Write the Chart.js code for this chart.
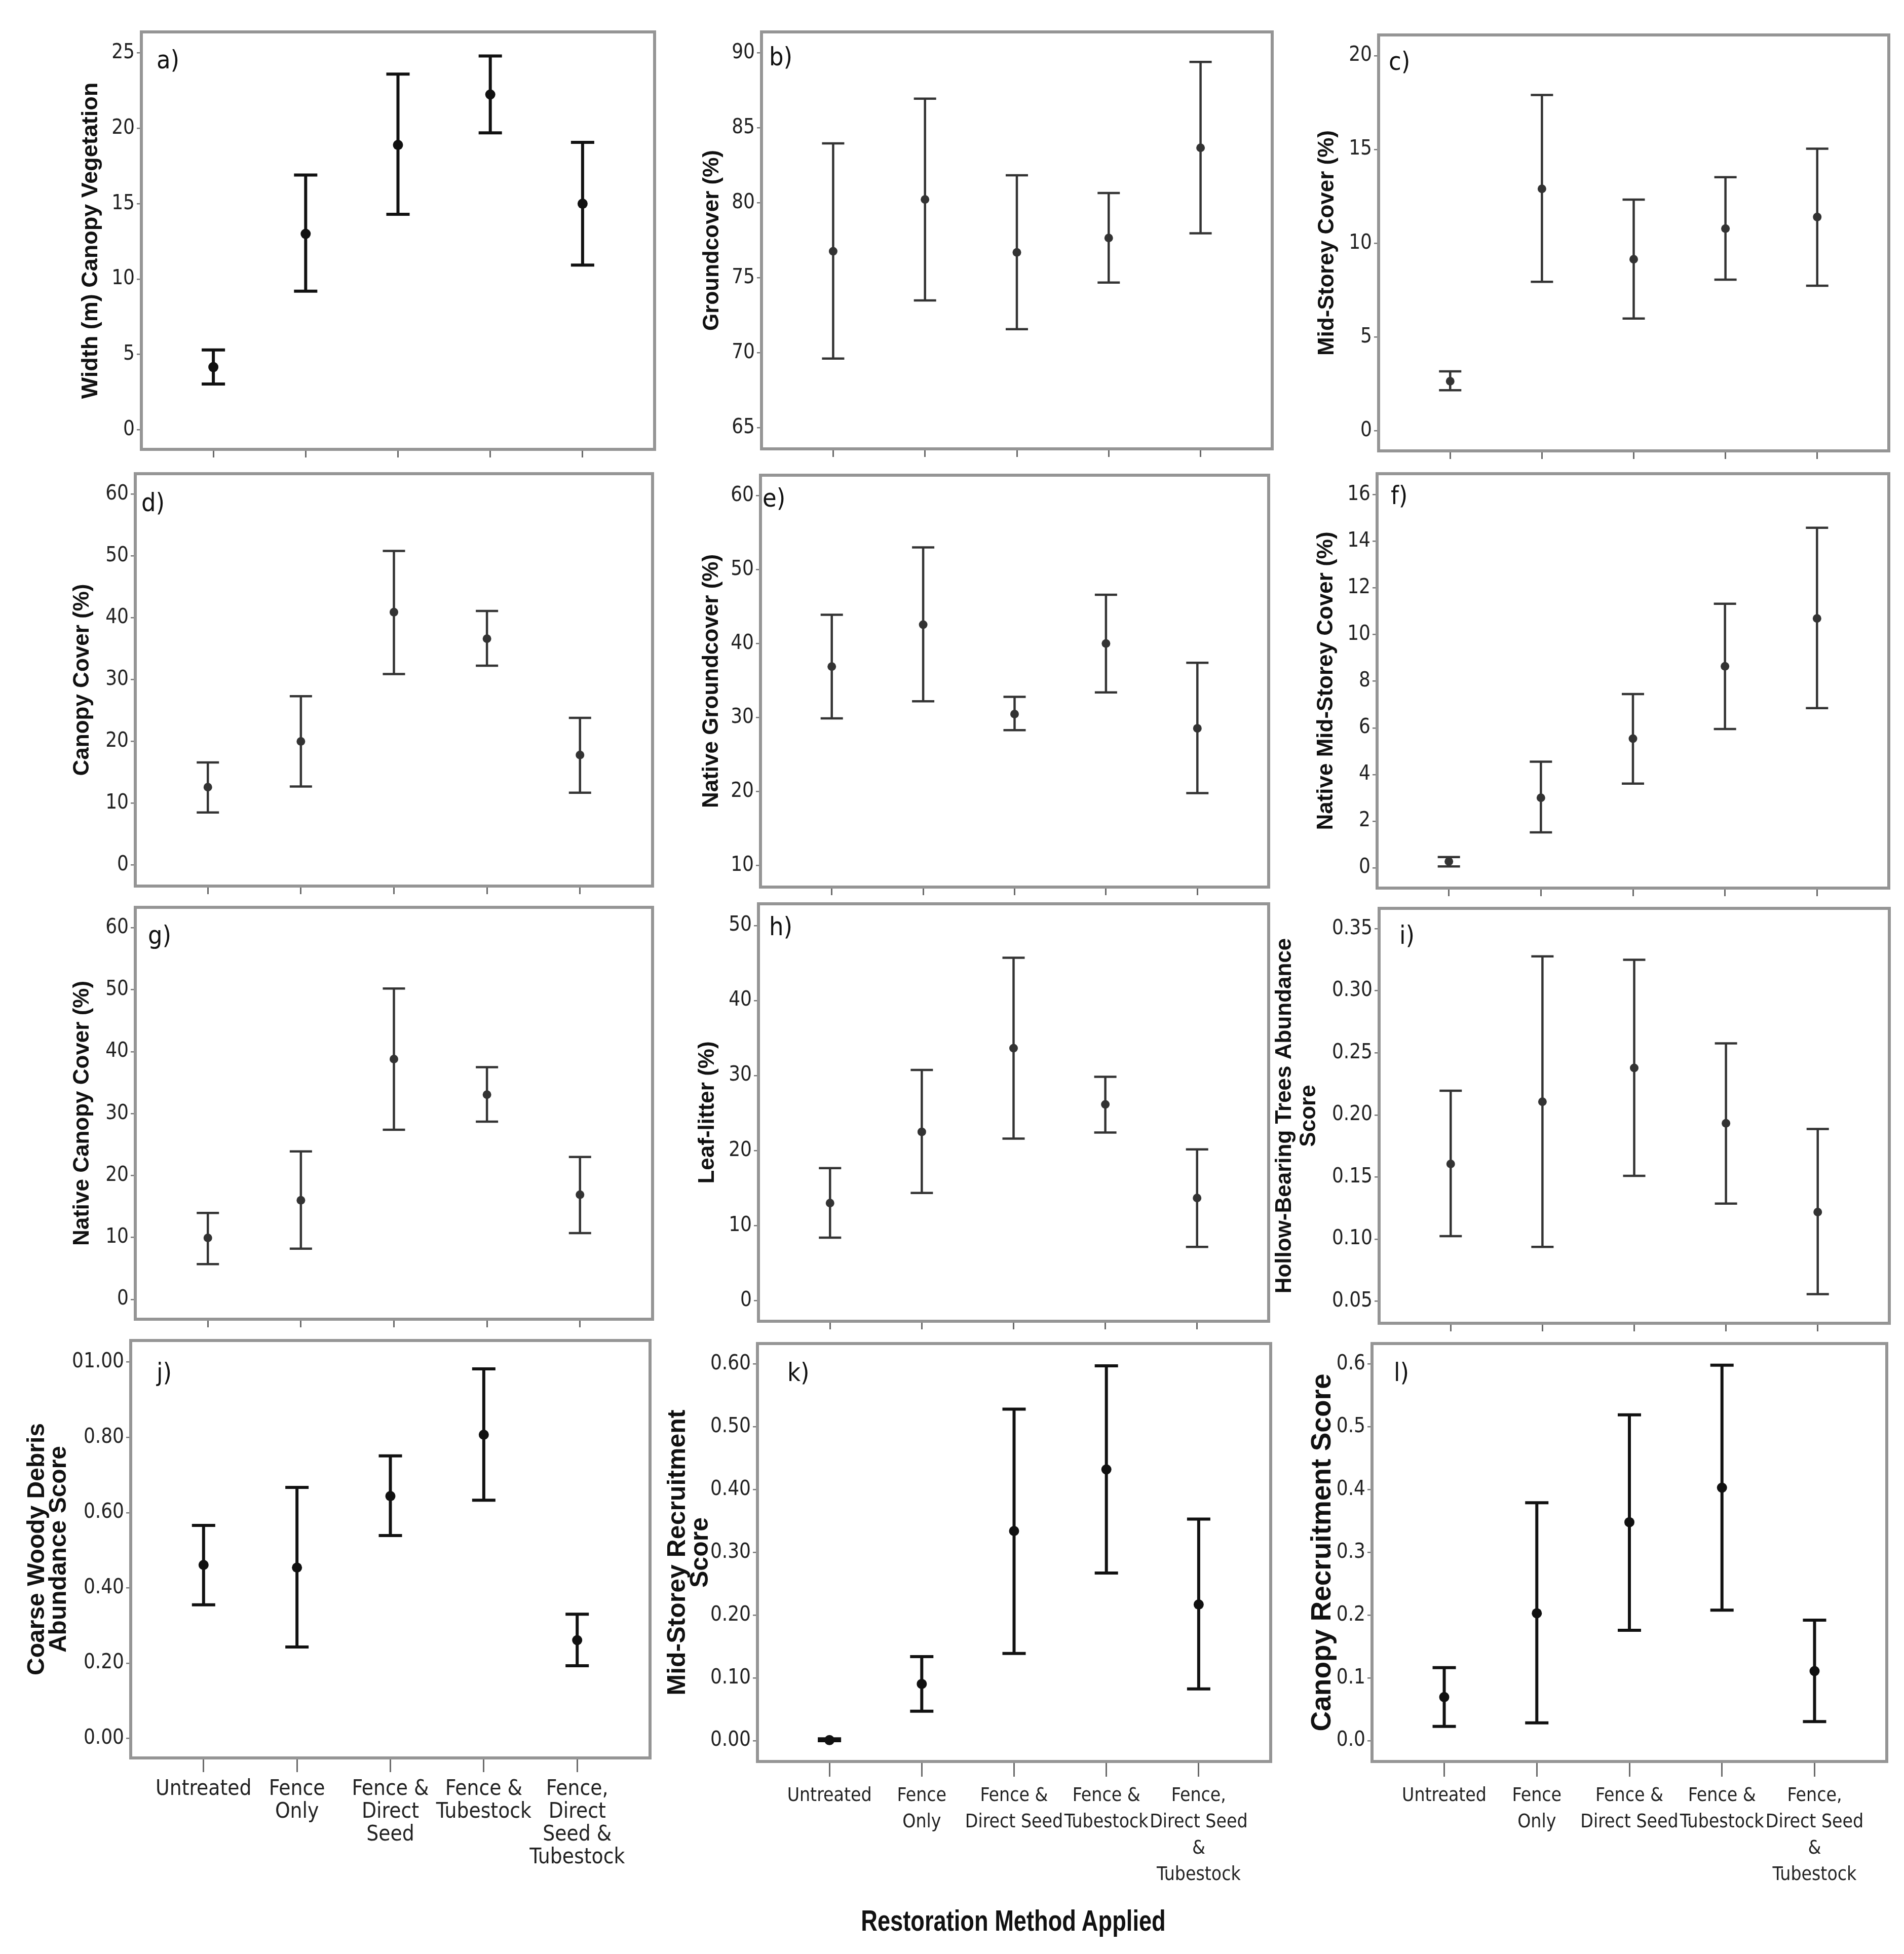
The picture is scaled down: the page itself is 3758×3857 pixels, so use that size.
<!DOCTYPE html>
<html>
<head>
<meta charset="utf-8">
<script src="https://cdn.jsdelivr.net/npm/chart.js@4.4.1/dist/chart.umd.min.js"></script>
<style>
body{margin:0;background:#fff;}
#page{position:relative;width:3758px;height:3857px;background:#fff;overflow:hidden;}
#page canvas{position:absolute;}
#xtitle{position:absolute;left:1500px;width:1000px;top:3756px;line-height:70px;text-align:center;
  font-family:'Liberation Sans',Arial,sans-serif;font-weight:bold;font-size:58px;color:#111;
  transform:scaleX(0.78);transform-origin:50% 50%;}
</style>
</head>
<body>
<div id="page"><div id="xtitle">Restoration Method Applied</div></div>
<script>
var categories=['Untreated','Fence Only','Fence & Direct Seed','Fence & Tubestock','Fence, Direct Seed & Tubestock'];
// x tick label lines, bottom row
var labelsJ=[['Untreated'],['Fence','Only'],['Fence &','Direct','Seed'],['Fence &','Tubestock'],['Fence,','Direct','Seed &','Tubestock']];
var labelsKL=[['Untreated'],['Fence','Only'],['Fence &','Direct Seed'],['Fence &','Tubestock'],['Fence,','Direct Seed','&','Tubestock']];

// means and error bar ends
var widthMean=[4.16,13.0,18.9,22.25,15.0];
var widthLow=[3.04,9.2,14.3,19.7,10.93];
var widthHigh=[5.3,16.9,23.6,24.8,19.07];
var widthTicks=['0','5','10','15','20','25'];

var groundMean=[76.77,80.23,76.7,77.66,83.67];
var groundLow=[69.62,73.5,71.58,74.69,77.97];
var groundHigh=[83.97,86.95,81.84,80.66,89.4];
var groundTicks=['65','70','75','80','85','90'];

var midMean=[2.65,12.9,9.15,10.78,11.4];
var midLow=[2.17,7.95,5.99,8.06,7.74];
var midHigh=[3.18,17.9,12.33,13.52,15.04];
var midTicks=['0','5','10','15','20'];

var canopyMean=[12.6,20.0,40.9,36.6,17.8];
var canopyLow=[8.5,12.7,30.9,32.25,11.7];
var canopyHigh=[16.6,27.3,50.8,41.1,23.8];
var canopyTicks=['0','10','20','30','40','50','60'];

var nGroundMean=[36.9,42.55,30.47,40.0,28.55];
var nGroundLow=[29.9,32.2,28.3,33.4,19.8];
var nGroundHigh=[43.9,53.0,32.8,46.6,37.4];
var nGroundTicks=['10','20','30','40','50','60'];

var nMidMean=[0.27,3.0,5.54,8.64,10.69];
var nMidLow=[0.06,1.52,3.61,5.95,6.85];
var nMidHigh=[0.46,4.55,7.45,11.32,14.58];
var nMidTicks=['0','2','4','6','8','10','12','14','16'];

var nCanopyMean=[9.92,16.0,38.8,33.06,16.9];
var nCanopyLow=[5.7,8.2,27.4,28.7,10.7];
var nCanopyHigh=[13.95,23.9,50.2,37.5,23.0];
var nCanopyTicks=['0','10','20','30','40','50','60'];

var litterMean=[13.0,22.5,33.65,26.15,13.68];
var litterLow=[8.4,14.36,21.6,22.4,7.16];
var litterHigh=[17.67,30.75,45.7,29.84,20.16];
var litterTicks=['0','10','20','30','40','50'];

var hollowMean=[0.1605,0.2106,0.2379,0.1933,0.1218];
var hollowLow=[0.1024,0.0937,0.1509,0.1286,0.0557];
var hollowHigh=[0.2195,0.3277,0.325,0.2577,0.1887];
var hollowTicks=['0.05','0.10','0.15','0.20','0.25','0.30','0.35'];

var debrisMean=[0.461,0.454,0.644,0.807,0.261];
var debrisLow=[0.355,0.243,0.539,0.633,0.193];
var debrisHigh=[0.566,0.667,0.751,0.982,0.330];
var debrisTicks=['0.00','0.20','0.40','0.60','0.80','01.00'];

var midRecMean=[0.001,0.0905,0.334,0.432,0.217];
var midRecLow=[0.0,0.047,0.139,0.267,0.0826];
var midRecHigh=[0.003,0.134,0.528,0.597,0.353];
var midRecTicks=['0.00','0.10','0.20','0.30','0.40','0.50','0.60'];

var canRecMean=[0.0696,0.203,0.348,0.403,0.111];
var canRecLow=[0.0228,0.0286,0.176,0.208,0.0306];
var canRecHigh=[0.1165,0.379,0.519,0.598,0.192];
var canRecTicks=['0.0','0.1','0.2','0.3','0.4','0.5','0.6'];

var NARROW="'Liberation Sans Narrow','DejaVu Sans Condensed','Arial Narrow',sans-serif";
var SANS="'Liberation Sans',Arial,sans-serif";
var YW=240, PT=40, PR=30;

var panels=[
 {tag:'a',box:[279,63,1013,832],min:-1.3,max:26.4,title:'Width (m) Canopy Vegetation',ts:45,dist:99,
  mean:widthMean,low:widthLow,high:widthHigh,ticks:widthTicks,heavy:true,lab:[30,59]},
 {tag:'b',box:[1503,63,1008,831],min:63.6,max:91.4,title:'Groundcover (%)',ts:44,dist:97,
  mean:groundMean,low:groundLow,high:groundHigh,ticks:groundTicks,lab:[15,53]},
 {tag:'c',box:[2721,69,1007,829],min:-1.06,max:21.1,title:'Mid-Storey Cover (%)',ts:44,dist:101,
  mean:midMean,low:midLow,high:midHigh,ticks:midTicks,lab:[20,56]},
 {tag:'d',box:[267,935,1021,822],min:-3.4,max:63.3,title:'Canopy Cover (%)',ts:44,dist:104,
  mean:canopyMean,low:canopyLow,high:canopyHigh,ticks:canopyTicks,lab:[12,61]},
 {tag:'e',box:[1501,938,1003,821],min:7.1,max:62.75,title:'Native Groundcover (%)',ts:44,dist:96,
  mean:nGroundMean,low:nGroundLow,high:nGroundHigh,ticks:nGroundTicks,lab:[4,49]},
 {tag:'f',box:[2718,935,1010,826],min:-0.87,max:16.9,title:'Native Mid-Storey Cover (%)',ts:44,dist:100,
  mean:nMidMean,low:nMidLow,high:nMidHigh,ticks:nMidTicks,lab:[27,47]},
 {tag:'g',box:[267,1791,1021,821],min:-3.2,max:63.3,title:'Native Canopy Cover (%)',ts:44,dist:104,
  mean:nCanopyMean,low:nCanopyLow,high:nCanopyHigh,ticks:nCanopyTicks,lab:[25,59]},
 {tag:'h',box:[1497,1784,1007,832],min:-2.75,max:52.9,title:'Leaf-litter (%)',ts:44,dist:100,
  mean:litterMean,low:litterLow,high:litterHigh,ticks:litterTicks,lab:[21,49]},
 {tag:'i',box:[2722,1793,1007,827],min:0.0322,max:0.3664,title:['Hollow-Bearing Trees Abundance','Score'],ts:44,tl:48,dist:186,
  mean:hollowMean,low:hollowLow,high:hollowHigh,ticks:hollowTicks,lab:[40,57]},
 {tag:'j',box:[258,2646,1025,824],min:-0.052,max:1.0575,title:['Coarse Woody Debris','Abundance Score'],ts:48,tl:43,dist:184,
  mean:debrisMean,low:debrisLow,high:debrisHigh,ticks:debrisTicks,heavy:true,lab:[51,67],
  xl:labelsJ,xs:42,xlh:45,xt:28},
 {tag:'k',box:[1495,2652,1013,825],min:-0.033,max:0.6325,title:['Mid-Storey Recruitment','Score'],ts:50,tl:45,dist:157,
  mean:midRecMean,low:midRecLow,high:midRecHigh,ticks:midRecTicks,heavy:true,lab:[59,61],
  xl:labelsKL,xs:37,xlh:52,xt:30},
 {tag:'l',box:[2708,2652,1016,825],min:-0.033,max:0.6325,title:'Canopy Recruitment Score',ts:55,dist:97,
  mean:canRecMean,low:canRecLow,high:canRecHigh,ticks:canRecTicks,heavy:true,lab:[43,61],
  xl:labelsKL,xs:37,xlh:52,xt:30}
];

function makePlugins(p,st){
  return [{
    id:'frameAndBars',
    beforeDatasetsDraw:function(chart){
      var a=chart.chartArea, ctx=chart.ctx, xs=chart.scales.x, ys=chart.scales.y;
      ctx.save();
      ctx.strokeStyle='#959595'; ctx.lineWidth=6;
      ctx.strokeRect(a.left,a.top,a.right-a.left,a.bottom-a.top);
      ctx.strokeStyle=st.color; ctx.lineWidth=st.width; ctx.lineCap='butt';
      p.low.forEach(function(lo,i){
        var x=xs.getPixelForValue(i), y1=ys.getPixelForValue(lo), y2=ys.getPixelForValue(p.high[i]);
        ctx.beginPath();
        ctx.moveTo(x,y1); ctx.lineTo(x,y2);
        ctx.moveTo(x-st.cap,y1); ctx.lineTo(x+st.cap,y1);
        ctx.moveTo(x-st.cap,y2); ctx.lineTo(x+st.cap,y2);
        ctx.stroke();
      });
      ctx.restore();
    },
    afterDraw:function(chart){
      var a=chart.chartArea, ctx=chart.ctx;
      ctx.save();
      ctx.fillStyle='#111'; ctx.font='50px '+NARROW;
      ctx.textAlign='left'; ctx.textBaseline='middle';
      ctx.fillText(p.tag+')',a.left+p.lab[0],a.top+p.lab[1]);
      ctx.restore();
    }
  }];
}

var page=document.getElementById('page');
panels.forEach(function(p){
  var bl=p.box[0], bt=p.box[1], bw=p.box[2], bh=p.box[3];
  var xh=p.xl?320:20;
  var cv=document.createElement('canvas');
  cv.width=YW+bw+PR; cv.height=PT+bh+xh;
  cv.style.left=(bl-YW)+'px'; cv.style.top=(bt-PT)+'px';
  page.appendChild(cv);
  var st=p.heavy?{color:'#111',width:6,cap:23,r:10}:{color:'#333',width:4.5,cap:22,r:8.5};
  var lh=p.tl||Math.round(p.ts*1.2);
  new Chart(cv,{
    type:'scatter',
    data:{datasets:[{
      data:p.mean.map(function(m,i){return {x:i,y:m};}),
      pointRadius:st.r,pointHoverRadius:st.r,
      pointBackgroundColor:st.color,pointBorderColor:st.color,pointBorderWidth:0,showLine:false
    }]},
    options:{
      responsive:false,animation:false,devicePixelRatio:1,
      layout:{padding:{left:0,top:PT,right:PR,bottom:0}},
      plugins:{legend:{display:false},tooltip:{enabled:false}},
      scales:{
        x:{type:'linear',min:-0.78,max:4.78,
          afterBuildTicks:function(s){s.ticks=categories.map(function(c,i){return {value:i};});},
          afterFit:function(s){s.height=xh;},
          ticks:{autoSkip:false,maxRotation:0,minRotation:0,padding:12,color:'#222',
            font:{family:NARROW,size:p.xs||40,lineHeight:(p.xlh||48)+'px'},
            callback:function(v,i){return p.xl?p.xl[i]:'';}},
          grid:{drawOnChartArea:false,drawTicks:true,tickLength:p.xt||16,color:'#6a6a6a',lineWidth:3},
          border:{display:false}},
        y:{type:'linear',min:p.min,max:p.max,
          afterBuildTicks:function(s){s.ticks=p.ticks.map(function(t){return {value:parseFloat(t)};});},
          afterFit:function(s){s.width=YW;},
          ticks:{autoSkip:false,padding:4,color:'#222',font:{family:NARROW,size:40},
            callback:function(v,i){return p.ticks[i];}},
          grid:{drawOnChartArea:false,drawTicks:true,tickLength:9,color:'#777',lineWidth:2.5},
          border:{display:false},
          title:{display:true,text:p.title,color:'#111',
            font:{family:SANS,weight:'bold',size:p.ts,lineHeight:lh+'px'},
            padding:{top:YW-p.dist-lh/2,bottom:0}}}
      }
    },
    plugins:makePlugins(p,st)
  });
});
</script>
</body>
</html>
